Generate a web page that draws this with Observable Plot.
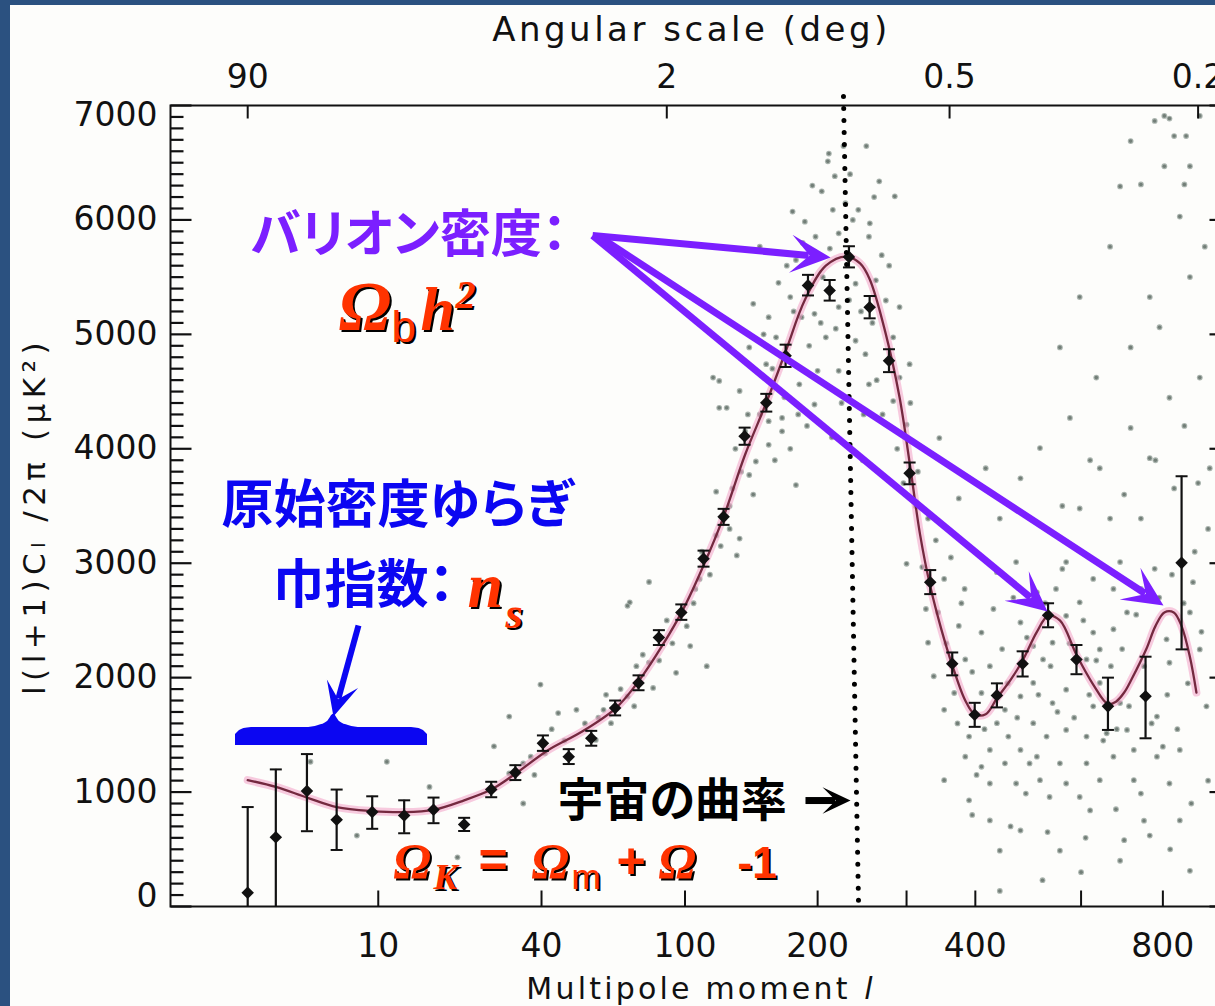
<!DOCTYPE html>
<html><head><meta charset="utf-8">
<script src="https://cdn.jsdelivr.net/npm/d3@7"></script>
<script src="https://cdn.jsdelivr.net/npm/@observablehq/plot@0.6"></script>
<style>
html,body{margin:0;padding:0;width:1215px;height:1006px;overflow:hidden;background:#2b5180;}
#panel{position:absolute;left:10px;top:5px;width:1205px;height:1001px;background:#fdfdfb;}
#chart{position:absolute;left:0;top:0;width:1215px;height:1006px;overflow:hidden;}
</style></head>
<body><div id="panel"></div><div id="chart"></div>
<script>
// ---------------- data ----------------
const xDomain = [0.5, 1000];
const yDomain = [0, 7000];

// binned spectrum (diamonds with error bars)
const binL  = [2,3,4.5,6.4,9.4,12.9,16.9,22,27.4,33,40.4,48.4,56.3,65.7,76,85.9,97.9,111,123.9,138.6,155.1,171,190.9,211.8,231.8,254.8,277.8,304,332,364,399,436,482,531,590,661,754,852];
const binV  = [121,605,1010,758,825,796,846,717,1022,1170,1427,1309,1470,1734,1954,2350,2570,3039,3405,4109,4402,4813,5428,5384,5677,5237,4769,3786,2834,2121,1675,1845,2121,2546,2159,1749,1837,3003];
const binLo = [0,0,658,494,679,640,728,660,955,1105,1360,1245,1405,1670,1890,2285,2505,2970,3335,4035,4325,4715,5340,5295,5585,5140,4670,3690,2730,2020,1570,1740,2010,2440,2030,1543,1470,2247];
const binHi = [869,1198,1332,1022,963,928,952,775,1090,1235,1495,1375,1535,1800,2020,2415,2640,3110,3475,4185,4480,4910,5520,5475,5770,5335,4870,3880,2940,2220,1780,1950,2230,2650,2285,2000,2183,3760];

// best-fit model curve
const fitL = [2,3,4.5,6.4,9.4,12.9,16.9,22,27.4,33,42,53,66,76,88,99,111,124,139,155,171,188,208,229,244,255,274,291,304,318,332,348,364,384,399,417,436,460,482,509,531,555,590,627,661,680,700,719,756,780,804,830,852,876,895];
const fitV = [1104,1045,952,869,834,825,845,928,1022,1160,1368,1529,1734,1968,2290,2599,2980,3410,3950,4400,4850,5300,5600,5680,5620,5480,5000,4450,3880,3250,2800,2420,2110,1800,1680,1680,1820,1980,2150,2400,2540,2500,2200,1940,1770,1790,1870,1990,2250,2450,2570,2570,2450,2180,1870];

// unbinned measurements (gray scatter)
const scatterL = [4.7,10.9,16.3,28,20.8,8,31.5,35,
81,71,103,113,95,106,75,71,83,61,64,51,58,45,41,37,31.5,39.7,72,81,108.6,119,133,119,130,135,142,147,157,157,168,180,126,121,
177,188,215,242,254,269,198,175,185,197,208,221,239,262,274,291,283,291,304,145,157,142,155,163,135,121,117,183,200,197,221,239,250,254,283,300,139,168,150,221,228,255,210,251,266,197,285,211,226,217,
300,321,352,383,343,374,329,384,410,424,337,367,410,436,352,390,384,424,456,450,478,502,521,502,540,478,509,547,568,597,627,612,642,674,707,742,778,674,627,690,568,470,436,642,690,627,568,540,502,528,568,612,658,707,724,674,612,555,509,478,450,410,424,470,515,568,642,724,800,784,818,810,885,876,905,925,784,818,742,847,597,534,488,
642,716,765,818,905,876,847,765,716,666,634,576,804,905,876,690,597,555,515,478,441,920,791,742,666,597,831,935,716,804,778,818,831,865,742,860,
345,374,417,329,
352,390,424,441,478,555,620,690,765,847,876,441,520,700,600,
160,165,172,178,182,186,192,195,203,205,212,218,224,232,236,245,248,258,263,270,278,288,296,305,312,150,145,162,175,190,214,247,260,233,204,180,170,153,132,128,
315,326,340,355,362,372,378,395,402,415,430,445,455,465,472,490,495,512,525,536,550,560,575,585,605,618,634,650,668,682,695,712,730,750,770,790,812,825,840,858,870,890,910,930,395,460,530,610,680,750,820,880,930,900,860,780,700,620,560,
43,47,54,59,62,68,74,78,86,90,93,101,105,110,115,122,128,136,141,35,38];
const scatterV = [1265,1265,1045,1400,430,620,1660,900,
2836,2628,2276,2100,2042,2775,2100,1836,1910,1719,1602,1719,1456,1690,1339,1309,1163,1939,2658,2130,2863,3243,3068,3625,3654,3215,3771,3889,4035,4241,4270,3683,4358,4593,
6073,5985,6088,6088,5853,5692,5853,5326,5150,5179,4974,5238,5443,5472,5296,5238,4974,4622,4739,5267,5150,4886,4739,4974,4505,4358,4622,4563,4681,4387,4681,4944,4827,4563,4417,4211,4153,4153,5766,5883,6146,5970,6512,6645,6337,5722,6206,6580,6645,6382,
2995,2966,2863,2775,2570,2452,2306,2159,2394,2100,2012,1866,1866,1602,1719,1485,1309,1368,1485,1719,1836,1954,2159,2276,2306,2482,2746,2775,2540,2658,2394,2159,2247,2423,2570,2775,2951,2775,2863,3010,3010,3010,2922,1954,1778,1749,1895,1778,1602,1485,1543,1485,1514,1543,1368,1309,1251,1251,1309,1368,1251,1221,1075,1075,1104,1075,1104,1104,1397,1660,2130,2335,2834,2570,2247,1749,1309,1075,987,1368,957,957,987,
3830,4182,3918,4446,4622,5501,6029,5326,4886,5766,4622,4270,6909,6909,6469,6293,5326,4886,4006,3742,3390,5766,5062,3390,3390,3478,3654,3830,6689,6469,6865,6886,6733,6733,6310,6310,
4094,3566,3830,3390,
1104,928,752,488,664,488,840,400,620,752,312,136,230,580,300,
4700,5450,5600,5200,4300,5800,4900,6300,5100,5500,5750,5050,4400,5300,6000,5200,4300,5100,4600,4300,5600,4000,3700,4400,3500,4300,3600,3900,4000,4200,4100,3900,6200,6400,6250,5650,4450,5000,4000,3500,
3800,2600,3200,2300,3050,1600,2650,2050,1150,1550,2600,2250,1950,2700,1650,2350,1250,1850,2650,2100,1700,2950,2300,1650,2500,1850,2150,1450,2100,1550,2250,1750,2550,2100,1600,2700,1850,2900,1550,2650,1950,3100,2400,3300,800,700,650,600,850,750,500,900,1100,3700,4200,3900,3600,3900,3500,
1550,1450,1600,1650,1850,1900,1750,2200,2150,2500,2300,2450,2650,3100,2900,3150,3300,3800,4300,1250,1150];

// axes ticks
const yMajor = d3.range(0, 7001, 1000);
const yMinor = d3.range(100, 7000, 100).filter(d => d % 1000 !== 0);
const bottomTickL = [10, 40, 100, 200, 300, 400, 600, 800];
const bottomLabelL = [10, 40, 100, 200, 400, 800];
const topTickL = [2, 90, 360, 900];
const topTickText = ["90", "2", "0.5", "0.2"];

// ---------------- tables ----------------
const bins = binL.map((l, i) => ({l, v: binV[i], lo: binLo[i], hi: binHi[i]}));
const fit = fitL.map((l, i) => ({l, v: fitV[i]}));
const scatter = scatterL.map((l, i) => ({l, v: scatterV[i]}));

// ---------------- annotation geometry (data coordinates) ----------------
const purple = "#7b1fff", blue = "#0b06f2", orange = "#ff3300";
const arrowFromL = [56.8, 56.8, 59.8, 8.14, 188.6];
const arrowFromV = [5864, 5864, 5846, 2456, 926];
const arrowToL   = [212.7, 529.8, 801.7, 6.17, 233.5];
const arrowToV   = [5672, 2578, 2630, 1660, 926];
const arrowColor = [purple, purple, purple, blue, "#000"];
const arrowHeadR = [20, 20, 20, 17, 14];
const arrowWidth = [7, 7, 7, 6, 7];

const braceL = [1.6547,1.7903,1.9940,2.2475,4.4204,5.1803,5.7609,6.174,6.6093,7.3048,8.4043,13.314,14.349,15.304,16.014];
const braceTop = [1503,1542,1560,1564,1564,1582,1617,1680,1617,1582,1564,1564,1560,1542,1503];
const braceBottom = 1407;
const brace = braceL.map((l, i) => ({l, top: braceTop[i]}));

const sx = Plot.scale({x: {type: "pow", exponent: 0.25, domain: xDomain, range: [170, 1230]}});
const sy = Plot.scale({y: {type: "linear", domain: yDomain, range: [906, 105]}});
const arrows = arrowFromL.map((_, i) => {
  const x1 = sx.apply(arrowFromL[i]), y1 = sy.apply(arrowFromV[i]);
  const x2 = sx.apply(arrowToL[i]), y2 = sy.apply(arrowToV[i]);
  const dx = x2 - x1, dy = y2 - y1, len = Math.hypot(dx, dy);
  const back = arrowHeadR[i] * 1.1;
  return {
    l1: arrowFromL[i], v1: arrowFromV[i],
    l2: sx.invert(x2 - dx / len * back), v2: sy.invert(y2 - dy / len * back),
    tl: arrowToL[i], tv: arrowToV[i],
    angle: Math.atan2(dx, -dy) * 180 / Math.PI,
    color: arrowColor[i], r: arrowHeadR[i], w: arrowWidth[i]
  };
});

// formula pieces
const serifPieces = [
  {t: "Ω", l: 6.55, v: 5034, s: 70},
  {t: "h", l: 15.03, v: 5034, s: 62},
  {t: "2", l: 20.46, v: 5226, s: 40},
  {t: "n", l: 22.62, v: 2613, s: 64},
  {t: "s", l: 30.62, v: 2438, s: 44},
  {t: "Ω", l: 11.64, v: 253, s: 50},
  {t: "K", l: 16.90, v: 157, s: 36},
  {t: "Ω", l: 37.20, v: 253, s: 50},
  {t: "Ω", l: 85.71, v: 253, s: 50}
];
const sansPieces = [{t: "b", l: 11.4, v: 4929, s: 44}, {t: "m", l: 49.33, v: 157, s: 35}];
const sansBoldPieces = [{t: "=", l: 24.75, v: 262, s: 50}, {t: "+", l: 66.27, v: 253, s: 50}, {t: "-1", l: 133.5, v: 253, s: 44}];

// ---------------- symbols ----------------
const seg = (fx, fy) => ({draw(ctx, size) { const r = Math.sqrt(size / Math.PI); ctx.moveTo(0, 0); ctx.lineTo(fx * r, fy * r); }});
const capSym = {draw(ctx, size) { const r = Math.sqrt(size / Math.PI); ctx.moveTo(-r, 0); ctx.lineTo(r, 0); }};
const stealth = {draw(ctx, size) { const r = Math.sqrt(size / Math.PI); ctx.moveTo(0, 0); ctx.lineTo(-0.95 * r, 2 * r); ctx.lineTo(0, 1.05 * r); ctx.lineTo(0.95 * r, 2 * r); ctx.closePath(); }};

const textMarks = (pieces, opts) => [
  Plot.text(pieces, {x: "l", y: "v", text: "t", fontSize: d => d.s, textAnchor: "start", lineAnchor: "bottom", fill: "#000", dx: 2, dy: 2, ...opts}),
  Plot.text(pieces, {x: "l", y: "v", text: "t", fontSize: d => d.s, textAnchor: "start", lineAnchor: "bottom", fill: orange, ...opts})
];

const jp = (text, l, v, size, color) => Plot.text([text], {x: () => l, y: () => v, text: d => d, fontSize: size, fontFamily: "Noto Sans CJK JP", fontWeight: "bold", fill: color, textAnchor: "start", lineAnchor: "middle"});
const tickFont = {fontSize: 33, fontFamily: "DejaVu Sans", fill: "#111", lineAnchor: "middle"};

const chart = Plot.plot({
  width: 1260, height: 1006,
  marginLeft: 170, marginRight: 30, marginTop: 105, marginBottom: 100,
  style: "background: transparent; max-width: none; overflow: visible; font-family: 'DejaVu Sans';",
  x: {type: "pow", exponent: 0.25, domain: xDomain, axis: null},
  y: {domain: yDomain, axis: null},
  r: {type: "identity"},
  color: {type: "identity"},
  marks: [
    // scatter
    Plot.dot(scatter, {x: "l", y: "v", r: 2.9, fill: "#aab4ae", stroke: "none"}),
    Plot.dot(scatter, {x: "l", y: "v", r: 1.8, fill: "#727e77", stroke: "none"}),
    // model curve
    Plot.line(fit, {x: "l", y: "v", curve: "catmull-rom", stroke: "#f3a0c6", strokeWidth: 8, strokeOpacity: 0.55}),
    Plot.line(fit, {x: "l", y: "v", curve: "catmull-rom", stroke: "#74293f", strokeWidth: 2.3}),
    // error bars
    Plot.ruleX(bins, {x: "l", y1: "lo", y2: "hi", stroke: "#111", strokeWidth: 2.2}),
    Plot.dot(bins, {x: "l", y: "hi", symbol: capSym, r: 6, stroke: "#111", strokeWidth: 2, fill: "none"}),
    Plot.dot(bins.filter(d => d.lo > 0), {x: "l", y: "lo", symbol: capSym, r: 6, stroke: "#111", strokeWidth: 2, fill: "none"}),
    Plot.dot(bins, {x: "l", y: "v", symbol: "square", rotate: 45, r: 5, fill: "#111", stroke: "none"}),
    // frame & ticks
    Plot.frame({stroke: "#111", strokeWidth: 2}),
    Plot.dot(yMajor, {x: () => xDomain[0], y: d => d, symbol: seg(1, 0), r: 21, stroke: "#111", strokeWidth: 2.2, fill: "none"}),
    Plot.dot(yMinor, {x: () => xDomain[0], y: d => d, symbol: seg(1, 0), r: 13, stroke: "#111", strokeWidth: 2.2, fill: "none"}),
    Plot.dot(yMajor, {x: () => xDomain[1], y: d => d, symbol: seg(-1, 0), r: 21, stroke: "#111", strokeWidth: 2.2, fill: "none"}),
    Plot.dot(yMinor, {x: () => xDomain[1], y: d => d, symbol: seg(-1, 0), r: 13, stroke: "#111", strokeWidth: 2.2, fill: "none"}),
    Plot.dot(bottomTickL, {x: d => d, y: () => yDomain[0], symbol: seg(0, -1), r: 16, stroke: "#111", strokeWidth: 2, fill: "none"}),
    Plot.dot(topTickL, {x: d => d, y: () => yDomain[1], symbol: seg(0, 1), r: 13, stroke: "#111", strokeWidth: 2, fill: "none"}),
    // tick labels
    Plot.text(yMajor.filter(d => d > 0 && d < 7000), {y: d => d, text: d => String(d), frameAnchor: "left", textAnchor: "end", dx: -13, ...tickFont}),
    Plot.text([0], {y: d => d, text: d => String(d), frameAnchor: "left", textAnchor: "end", dx: -13, dy: -10, ...tickFont}),
    Plot.text([7000], {y: d => d, text: d => String(d), frameAnchor: "left", textAnchor: "end", dx: -13, dy: 10, ...tickFont}),
    Plot.text(bottomLabelL, {x: d => d, text: d => String(d), frameAnchor: "bottom", dy: 40, ...tickFont}),
    Plot.text(topTickL, {x: d => d, text: (d, i) => topTickText[i], frameAnchor: "top", dy: -28, ...tickFont}),
    // axis titles
    Plot.text(["Angular scale (deg)"], {text: d => d, frameAnchor: "top", dx: -9, dy: -75, fontSize: 34, fontFamily: "DejaVu Sans", fill: "#111", lineAnchor: "middle"}),
    Plot.text(["Multipole moment"], {text: d => d, frameAnchor: "bottom", dx: -12, dy: 83, fontSize: 30, fontFamily: "DejaVu Sans", fill: "#111", lineAnchor: "middle"}),
    Plot.text(["l"], {text: d => d, frameAnchor: "bottom", dx: 168, dy: 83, fontSize: 30, fontFamily: "DejaVu Sans", fontStyle: "italic", fill: "#111", lineAnchor: "middle"}),
    Plot.text(["l(l+1)Cₗ /2π (μK²)"], {text: d => d, frameAnchor: "left", rotate: -90, dx: -135, dy: 10, fontSize: 31, fontFamily: "DejaVu Sans", fill: "#111", textAnchor: "middle", lineAnchor: "middle"}),
    // dotted curvature line
    Plot.link([{l1: 226, v1: 7079, l2: 242.2, v2: 52}], {x1: "l1", y1: "v1", x2: "l2", y2: "v2", stroke: "#000", strokeWidth: 5, strokeDasharray: "0 12", strokeLinecap: "round"}),
    // brace
    Plot.areaY(brace, {x: "l", y1: () => braceBottom, y2: "top", fill: blue, curve: "monotone-x"}),
    // arrows
    Plot.link(arrows, {x1: "l1", y1: "v1", x2: "l2", y2: "v2", stroke: "color", strokeWidth: "w"}),
    Plot.dot(arrows, {x: "tl", y: "tv", r: "r", rotate: "angle", symbol: stealth, fill: "color", stroke: "none"}),
    // Japanese labels
    jp("バリオン密度：", 2.0864, 5864, 51, purple),
    jp("原始密度ゆらぎ", 1.3157, 3496, 52, blue),
    jp("巾指数：", 2.8658, 2797, 52, blue),
    jp("宇宙の曲率", 44.79, 918, 46, "#000"),
    // formulas
    ...textMarks(serifPieces, {fontFamily: "Liberation Serif", fontWeight: "bold", fontStyle: "italic"}),
    ...textMarks(sansPieces, {fontFamily: "Liberation Sans"}),
    ...textMarks(sansBoldPieces, {fontFamily: "Liberation Sans", fontWeight: "bold"})
  ]
});
// text spacing tweaks
d3.select(chart).selectAll("text").each(function() {
  const t = this.textContent;
  if (t === "Angular scale (deg)") this.style.letterSpacing = "3.5px";
  else if (t === "Multipole moment") this.style.letterSpacing = "3.2px";
  else if (t.startsWith("l(l+1)")) this.style.letterSpacing = "5.5px";
  else if (/[\u3040-\u30ff\u4e00-\u9fff]/.test(t)) this.style.fontFeatureSettings = '"palt" 1';
});
document.getElementById("chart").appendChild(chart);
</script>
</body></html>
